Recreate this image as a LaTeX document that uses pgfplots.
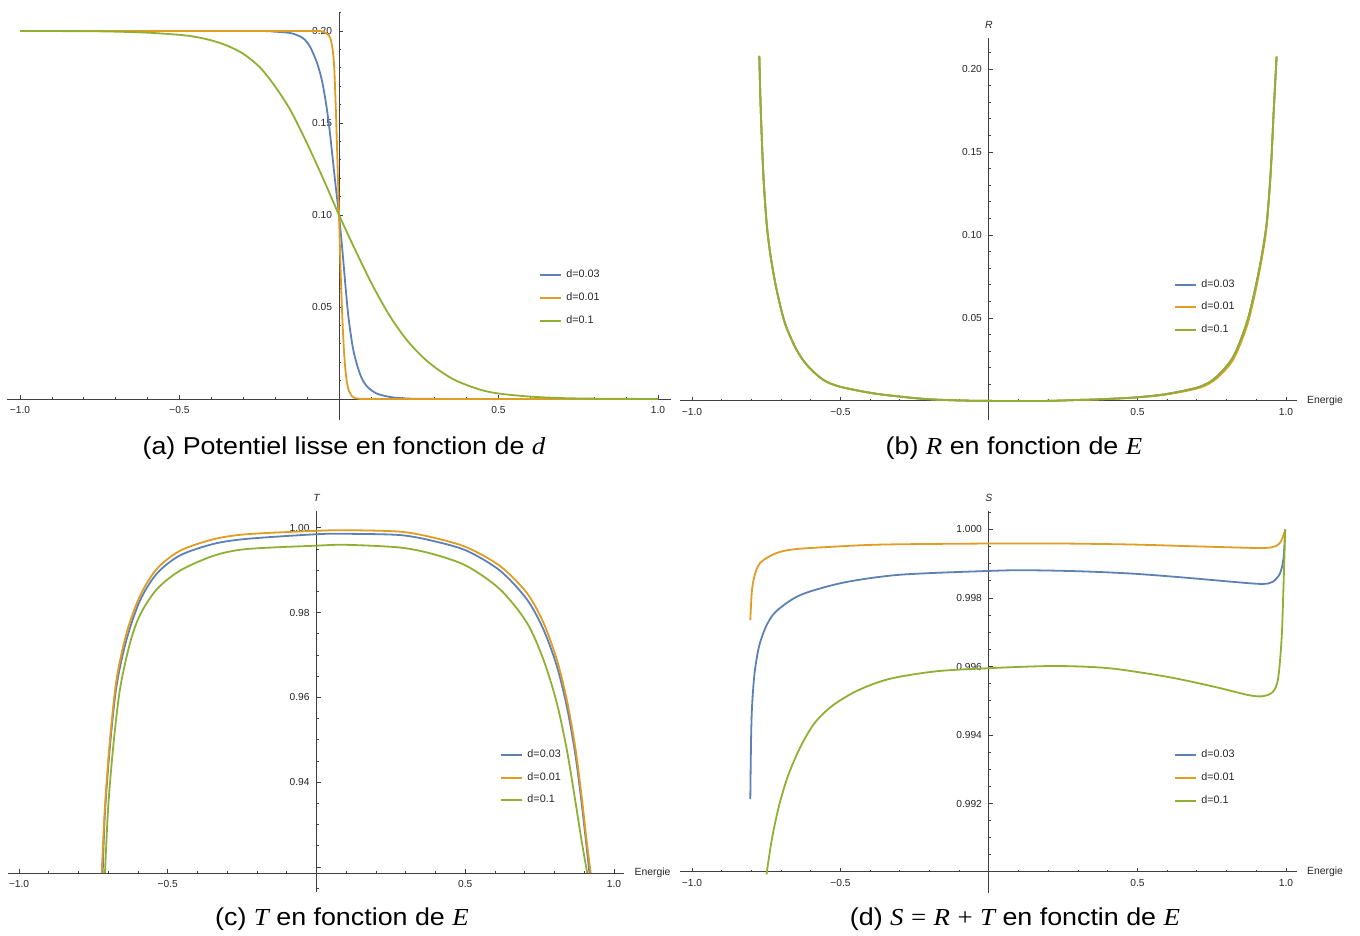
\documentclass[border=0pt]{standalone}
\usepackage{pgfplots}
\pgfplotsset{compat=1.18}
\usepackage{fontspec}
\setmainfont{Liberation Sans}
\newfontfamily\tms{Liberation Serif}
\newcommand{\mi}[1]{{\tms\itshape #1}}
\definecolor{mblue}{RGB}{94,129,181}
\definecolor{morange}{RGB}{225,156,36}
\definecolor{mgreen}{RGB}{143,176,50}

% Mathematica-like look: axes through the origin, ticks inside
\pgfplotsset{
  mma/.style={
    scale only axis,
    axis lines=middle,
    axis line style={-, black!75, line width=0.5pt},
    tick align=inside,
    major tick length=2pt,
    minor tick length=1.2pt,
    tick style={black!75, line width=0.4pt},
    ticklabel style={font=\fontsize{5.1}{6}\selectfont, text=black!85},
    scaled ticks=false,
    xtick={-1,-0.5,0.5,1},
    xticklabels={−1.0,−0.5,0.5,1.0},
    minor xtick={-0.9,-0.8,-0.7,-0.6,-0.4,-0.3,-0.2,-0.1,0.1,0.2,0.3,0.4,0.6,0.7,0.8,0.9},
    every axis x label/.style={at={(current axis.right of origin)}, anchor=west, xshift=1.5pt,
      font=\fontsize{5.2}{6}\selectfont, text=black!85},
    every axis y label/.style={at={(current axis.above origin)}, anchor=south, yshift=1pt,
      font=\fontsize{5.2}{6}\selectfont, text=black!85},
    legend style={draw=none, fill=none, anchor=north west, inner sep=0pt,
      font=\fontsize{5.4}{6.5}\selectfont, text=black!85, row sep=1.9pt},
    legend cell align=left,
    legend image code/.code={\draw[#1, line width=1pt] (0pt,0pt) -- (10.5pt,0pt);},
    every axis plot/.append style={line width=0.9pt, smooth},
  },
}

\begin{document}
\begin{tikzpicture}
\path[use as bounding box] (0,0) rectangle (680pt,468pt);

% (a) potential
\begin{axis}[mma, at={(3.62pt,258pt)}, anchor=south west,
  width=331.76pt, height=204.15pt,
  xmin=-1.04, xmax=1.04, ymin=-0.0114, ymax=0.2105,
  ytick={0.05,0.1,0.15,0.2}, yticklabels={0.05,0.10,0.15,0.20},
  minor ytick={0.01,0.02,0.03,0.04,0.06,0.07,0.08,0.09,0.11,0.12,0.13,0.14,0.16,0.17,0.18,0.19,0.21},
  legend style={at={(axis cs:0.627,0.0725)}}]
\addplot[mblue] coordinates {
 (-1,0.2) (-0.5,0.2) (-0.25,0.2) (-0.2,0.1996) (-0.17,0.1993) (-0.143,0.1985) (-0.112,0.196)
 (-0.091,0.1915) (-0.07,0.1832) (-0.054,0.1735) (-0.041,0.161) (-0.03,0.147) (-0.02,0.131)
 (-0.01,0.115) (0,0.1) (0.01,0.082) (0.02,0.062) (0.03,0.044) (0.045,0.0265) (0.066,0.0135)
 (0.087,0.007) (0.118,0.003) (0.16,0.0011) (0.2,0.0004) (0.26,0.0001) (0.5,0) (1,0)};
\addplot[morange] coordinates {
 (-1,0.2) (-0.5,0.2) (-0.2,0.2) (-0.1,0.2) (-0.06,0.2) (-0.045,0.1993) (-0.035,0.1982)
 (-0.027,0.196) (-0.02,0.19) (-0.015,0.18) (-0.01,0.158) (-0.005,0.13) (0,0.1) (0.005,0.07)
 (0.01,0.046) (0.015,0.028) (0.02,0.016) (0.025,0.009) (0.03,0.005) (0.04,0.0016)
 (0.05,0.0005) (0.07,0) (0.1,0) (0.2,0) (0.5,0) (1,0)};
\addplot[mgreen] coordinates {
 (-1,0.2) (-0.8,0.1999) (-0.7,0.19965) (-0.6,0.1991) (-0.5,0.1979) (-0.45,0.1968) (-0.4,0.1949)
 (-0.35,0.192) (-0.3,0.1876) (-0.25,0.1806) (-0.205,0.171) (-0.153,0.1572) (-0.101,0.1392)
 (-0.049,0.1195) (0,0.1) (0.055,0.0795) (0.107,0.0612) (0.159,0.0452) (0.211,0.0324)
 (0.264,0.0225) (0.316,0.0153) (0.368,0.0099) (0.44,0.0052) (0.5,0.003) (0.6,0.0013)
 (0.7,0.0005) (0.8,0.0002) (1,0)};
\legend{d=0.03,d=0.01,d=0.1}
\end{axis}

% (b) R
\begin{axis}[mma, at={(340.05pt,258.05pt)}, anchor=south west,
  width=308.4pt, height=191pt,
  xmin=-1.04, xmax=1.037, ymin=-0.0114, ymax=0.2187,
  xlabel={Energie}, ylabel={\itshape R},
  ytick={0.05,0.1,0.15,0.2}, yticklabels={0.05,0.10,0.15,0.20},
  minor ytick={0.01,0.02,0.03,0.04,0.06,0.07,0.08,0.09,0.11,0.12,0.13,0.14,0.16,0.17,0.18,0.19,0.21},
  legend style={at={(axis cs:0.623,0.076)}}]
\addplot[mblue] coordinates {
 (-0.7733,0.2078) (-0.7688,0.1773) (-0.7599,0.1371) (-0.7486,0.107) (-0.7351,0.087)
 (-0.7149,0.0669) (-0.6869,0.0468) (-0.6476,0.0307) (-0.6083,0.0207) (-0.5578,0.0127)
 (-0.5017,0.0086) (-0.3895,0.0046) (-0.2772,0.0022) (-0.1987,0.001) (-0.1,0.0003)
 (0,0.00005) (0.1,0) (0.2,0.00005) (0.3,0.0006) (0.3737,0.001) (0.4972,0.0022)
 (0.5982,0.0042) (0.7104,0.0086) (0.7666,0.0146) (0.8227,0.0267) (0.8676,0.0468)
 (0.8956,0.0669) (0.918,0.087) (0.935,0.107) (0.9484,0.1371) (0.9596,0.1773) (0.9686,0.2074)};
\addplot[morange] coordinates {
 (-0.7733,0.2078) (-0.7688,0.1773) (-0.7599,0.1371) (-0.7486,0.107) (-0.7351,0.087)
 (-0.7149,0.0669) (-0.6869,0.0468) (-0.6476,0.0307) (-0.6083,0.0207) (-0.5578,0.0127)
 (-0.5017,0.0086) (-0.3895,0.0046) (-0.2772,0.0022) (-0.1987,0.001) (-0.1,0.0003)
 (0,0.00005) (0.1,0) (0.2,0.00005) (0.3,0.0006) (0.3737,0.001) (0.4972,0.0021)
 (0.5982,0.0039) (0.7104,0.008) (0.7666,0.0136) (0.8227,0.025) (0.8676,0.0445)
 (0.8956,0.0645) (0.918,0.085) (0.935,0.105) (0.9484,0.1365) (0.9596,0.177) (0.9686,0.2074)};
\addplot[mgreen] coordinates {
 (-0.7733,0.2078) (-0.7688,0.1773) (-0.7599,0.1371) (-0.7486,0.107) (-0.7351,0.087)
 (-0.7149,0.0669) (-0.6869,0.0468) (-0.6476,0.0307) (-0.6083,0.0207) (-0.5578,0.0127)
 (-0.5017,0.0086) (-0.3895,0.0046) (-0.2772,0.0022) (-0.1987,0.001) (-0.1,0.0003)
 (0,0.00005) (0.1,0) (0.2,0.00005) (0.3,0.0006) (0.3737,0.001) (0.4972,0.0022)
 (0.5982,0.0042) (0.7104,0.0086) (0.7666,0.0146) (0.8227,0.0267) (0.8676,0.0468)
 (0.8956,0.0669) (0.918,0.087) (0.935,0.107) (0.9484,0.1371) (0.9596,0.1773) (0.9686,0.2074)};
\legend{d=0.03,d=0.01,d=0.1}
\end{axis}

% (c) T, x axis crosses at T = 0.9186
\begin{axis}[mma, at={(3.85pt,22.15pt)}, anchor=south west,
  width=308.36pt, height=190.4pt,
  xmin=-1.038, xmax=1.035, ymin=-0.0044, ymax=0.0854,
  y filter/.expression={y-0.9186},
  xlabel={Energie}, ylabel={\itshape T},
  ytick={0.0014,0.0214,0.0414,0.0614,0.0814}, yticklabels={,0.94,0.96,0.98,1.00},
  minor ytick={-0.0036,0.0064,0.0114,0.0164,0.0264,0.0314,0.0364,0.0464,0.0514,0.0564,0.0664,0.0714,0.0764},
  legend style={at={(axis cs:0.617,0.0301)}}]
\addplot[mblue] coordinates {
 (-0.7187,0.9186) (-0.711,0.9329) (-0.694,0.9487) (-0.672,0.9628) (-0.638,0.9738)
 (-0.593,0.9829) (-0.537,0.9892) (-0.459,0.9935) (-0.347,0.9962) (-0.235,0.9974)
 (0,0.9985) (0.1,0.9986) (0.2807,0.9983) (0.3926,0.9969) (0.505,0.9946) (0.617,0.9899)
 (0.7066,0.9832) (0.7624,0.9761) (0.8074,0.9675) (0.841,0.958) (0.869,0.947) (0.891,0.9352)
 (0.9176,0.9186)};
\addplot[morange] coordinates {
 (-0.722,0.9186) (-0.711,0.9344) (-0.694,0.9502) (-0.672,0.9643) (-0.638,0.9753)
 (-0.593,0.984) (-0.537,0.9903) (-0.459,0.9946) (-0.347,0.9973) (-0.235,0.9985)
 (0,0.9993) (0.1,0.99945) (0.2807,0.9991) (0.3926,0.9977) (0.505,0.9954) (0.617,0.991)
 (0.7066,0.9847) (0.7624,0.9777) (0.8074,0.969) (0.841,0.9596) (0.869,0.9486) (0.891,0.9368)
 (0.908,0.9262) (0.9217,0.9186)};
\addplot[mgreen] coordinates {
 (-0.711,0.9186) (-0.7,0.9344) (-0.683,0.9486) (-0.6605,0.962) (-0.627,0.9728)
 (-0.593,0.9795) (-0.537,0.9855) (-0.459,0.9899) (-0.347,0.9934) (-0.235,0.995)
 (0,0.9958) (0.1,0.996) (0.2807,0.99536) (0.3926,0.9938) (0.505,0.991) (0.617,0.9855)
 (0.7066,0.9777) (0.7624,0.969) (0.8074,0.9588) (0.841,0.9478) (0.869,0.936) (0.891,0.9262)
 (0.91,0.9186)};
\legend{d=0.03,d=0.01,d=0.1}
\end{axis}

% (d) S = R + T, x axis crosses at S = 0.990
\begin{axis}[mma, at={(340.05pt,21.55pt)}, anchor=south west,
  width=308.4pt, height=191pt,
  xmin=-1.04, xmax=1.037, ymin=-0.00061, ymax=0.010543,
  y filter/.expression={y-0.99},
  xlabel={Energie}, ylabel={\itshape S},
  ytick={0.002,0.004,0.006,0.008,0.01}, yticklabels={0.992,0.994,0.996,0.998,1.000},
  minor ytick={0.0005,0.001,0.0015,0.0025,0.003,0.0035,0.0045,0.005,0.0055,0.0065,0.007,0.0075,0.0085,0.009,0.0095,0.0105},
  legend style={at={(axis cs:0.623,0.00369)}}]
\addplot[mblue] coordinates {
 (-0.8036,0.99213) (-0.801,0.99388) (-0.7976,0.99486) (-0.789,0.99583) (-0.7735,0.99661)
 (-0.749,0.9972) (-0.719,0.99759) (-0.659,0.99798) (-0.599,0.9982) (-0.478,0.99847)
 (-0.2976,0.99868) (0,0.99879) (0.124,0.99881) (0.305,0.99878) (0.4855,0.99871)
 (0.666,0.99859) (0.823,0.99847) (0.919,0.99841) (0.955,0.99847) (0.9795,0.99871)
 (0.9916,0.99915) (0.9976,1.0)};
\addplot[morange] coordinates {
 (-0.8036,0.99735) (-0.7976,0.99827) (-0.7855,0.99876) (-0.7675,0.99905) (-0.7193,0.9993)
 (-0.659,0.99942) (-0.5386,0.99949) (-0.3578,0.99956) (0,0.99959) (0.2446,0.99959)
 (0.4855,0.99956) (0.7265,0.9995) (0.9193,0.99946) (0.9675,0.99952) (0.9855,0.99969)
 (0.9976,1.0)};
\addplot[mgreen] coordinates {
 (-0.749,0.98993) (-0.731,0.99096) (-0.707,0.99193) (-0.677,0.9928) (-0.635,0.99365)
 (-0.587,0.99435) (-0.5265,0.99486) (-0.442,0.9953) (-0.334,0.99564) (-0.177,0.99586)
 (0,0.99595) (0.184,0.99601) (0.305,0.996) (0.425,0.99593) (0.606,0.99569) (0.763,0.9954)
 (0.871,0.99517) (0.919,0.99513) (0.955,0.99525) (0.9735,0.99564) (0.9855,0.99681)
 (0.9916,0.99827) (0.9976,1.0)};
\legend{d=0.03,d=0.01,d=0.1}
\end{axis}

% captions
\tikzset{captxt/.style={anchor=base, xscale=1.1, font=\fontsize{12.2}{14}\selectfont}}
\node[captxt] at (172pt,240.5pt) {(a) Potentiel lisse en fonction de \mi{d}};
\node[captxt] at (507pt,240.5pt) {(b) \mi{R} en fonction de \mi{E}};
\node[captxt] at (171pt,5pt) {(c) \mi{T} en fonction de \mi{E}};
\node[captxt] at (507.5pt,5pt) {(d) \mi{S} {\tms =} \mi{R} {\tms +} \mi{T} en fonctin de \mi{E}};
\end{tikzpicture}
\end{document}
